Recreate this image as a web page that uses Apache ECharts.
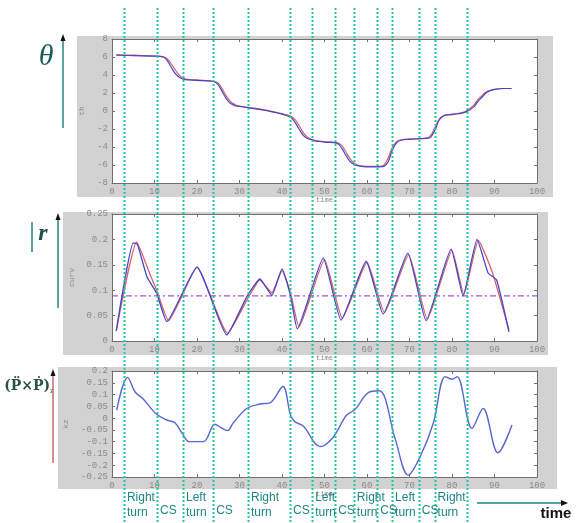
<!DOCTYPE html>
<html>
<head>
<meta charset="utf-8">
<script src="https://cdn.jsdelivr.net/npm/echarts@6/dist/echarts.min.js"></script>
<style>
  html, body { margin: 0; padding: 0; background: #fff; }
  #chart { width: 576px; height: 523px; }
</style>
</head>
<body>
<div id="chart"></div>
<script>
// heading angle theta (two estimates)
const thetaT    = [1, 5, 10, 12, 13, 14, 15, 16, 17, 18, 20, 24, 25, 26, 27, 28, 29, 30, 35, 40, 42, 43, 44, 45, 46, 47, 48, 50, 53, 54, 55, 56, 57, 58, 60, 63, 64, 65, 66, 67, 68, 70, 74, 75, 76, 77, 78, 80, 83, 85, 86, 87, 88, 89, 90, 92, 94];
const thetaRed  = [6.25, 6.2, 6.1, 6.05, 5.8, 5.2, 4.5, 3.9, 3.6, 3.5, 3.45, 3.3, 3.1, 2.4, 1.6, 1.0, 0.7, 0.55, 0.2, -0.3, -0.55, -0.9, -1.6, -2.4, -2.9, -3.15, -3.3, -3.4, -3.5, -3.8, -4.5, -5.3, -5.8, -6.05, -6.15, -6.15, -6.0, -5.2, -4.0, -3.4, -3.2, -3.1, -3.0, -2.7, -1.8, -0.9, -0.5, -0.35, -0.1, 0.6, 1.2, 1.7, 2.1, 2.3, 2.4, 2.5, 2.5];
const thetaBlue = [6.2, 6.15, 6.1, 6.0, 5.6, 4.8, 4.1, 3.7, 3.5, 3.45, 3.4, 3.25, 2.9, 2.1, 1.3, 0.8, 0.6, 0.5, 0.15, -0.35, -0.7, -1.2, -2.0, -2.7, -3.05, -3.2, -3.35, -3.45, -3.6, -4.1, -4.9, -5.6, -5.95, -6.1, -6.2, -6.2, -6.15, -5.6, -4.3, -3.5, -3.25, -3.15, -3.05, -2.9, -2.1, -1.0, -0.55, -0.4, -0.15, 0.4, 1.0, 1.5, 2.0, 2.25, 2.4, 2.5, 2.5];

// |r| curvature (two estimates) and threshold
const rRedT  = [1, 5.8, 9, 10.5, 13.3, 20, 27.2, 31.7, 34.8, 37.6, 40, 42, 44, 50, 54.2, 60, 64.1, 69.8, 74.2, 80, 82.8, 86.2, 89.5, 93.4];
const rRed   = [0.02, 0.195, 0.13, 0.1, 0.04, 0.145, 0.015, 0.08, 0.12, 0.095, 0.138, 0.095, 0.028, 0.16, 0.045, 0.155, 0.056, 0.17, 0.043, 0.178, 0.092, 0.198, 0.135, 0.022];
const rBlueT = [1, 5, 6, 8.2, 10.5, 12.9, 20, 27, 31.7, 34.8, 37.6, 40, 42, 43.6, 49.7, 53.9, 59.8, 63.8, 69.6, 73.9, 79.8, 82.6, 85.9, 88.5, 90.5, 93.4];
const rBlue  = [0.02, 0.193, 0.19, 0.127, 0.094, 0.038, 0.146, 0.012, 0.087, 0.122, 0.09, 0.142, 0.089, 0.024, 0.163, 0.041, 0.157, 0.053, 0.173, 0.04, 0.181, 0.089, 0.2, 0.134, 0.12, 0.018];
const rThreshold = 0.089;

// (P'' x P')z
const kzT = [1.1, 3.7, 5.4, 7.4, 10.5, 12.9, 14.8, 16.6, 18.2, 21.5, 24.2, 25.6, 27.2, 28.5, 31.7, 34.8, 37.2, 40.2, 42, 43, 45, 49, 52, 55.2, 57.2, 60.3, 62.9, 66.6, 69.7, 72.5, 75.6, 78.4, 80, 81.2, 84.7, 87.3, 90.8, 94.1];
const kz  = [0.034, 0.173, 0.112, 0.08, 0.016, -0.008, -0.02, -0.067, -0.1, -0.1, -0.026, -0.04, -0.053, -0.021, 0.041, 0.06, 0.065, 0.134, 0.013, -0.015, -0.034, -0.121, -0.082, 0.013, 0.037, 0.108, 0.116, -0.086, -0.242, -0.164, -0.022, 0.176, 0.165, 0.176, -0.044, 0.041, -0.147, -0.029];

// segment boundaries (time) and segment names
const segBounds = [2.8, 10.6, 16.7, 23.8, 32, 41.9, 47.1, 52.5, 56.9, 62.4, 65.9, 72.2, 75.9, 83.5];
const segLabels = ['Right\nturn', 'CS', 'Left\nturn', 'CS', 'Right\nturn', 'CS', 'Left\nturn', 'CS', 'Right\nturn', 'CS', 'Left\nturn', 'CS', 'Right\nturn'];

const xTicks = [0, 10, 20, 30, 40, 50, 60, 70, 80, 90, 100];

const pairs = (ts, vs) => ts.map((t, i) => [t, vs[i]]);

const chart = echarts.init(document.getElementById('chart'));

const tickFont = { color: '#8a8a8a', fontSize: 9, fontFamily: 'Liberation Mono' };
const frame = '#707070';

function bottomX(gi, withName) {
  return {
    type: 'value', gridIndex: gi, min: 0, max: 100, interval: 10, position: 'bottom',
    axisLine: { onZero: false, lineStyle: { color: frame } },
    axisTick: { inside: true, length: 3, lineStyle: { color: frame } },
    axisLabel: Object.assign({ margin: 4, formatter: v => xTicks.includes(v) ? String(v) : '' }, tickFont),
    splitLine: { show: false },
    name: withName ? 'time' : '', nameLocation: 'middle', nameGap: 13,
    nameTextStyle: { color: '#888', fontSize: 7, fontFamily: 'Liberation Mono' }
  };
}
function topX(gi) {
  return {
    type: 'value', gridIndex: gi, min: 0, max: 100, interval: 10, position: 'top',
    axisLine: { onZero: false, lineStyle: { color: frame } },
    axisTick: { inside: true, length: 3, lineStyle: { color: frame } },
    axisLabel: { show: false }, splitLine: { show: false }
  };
}
function leftY(gi, min, max, step, name, gap) {
  return {
    type: 'value', gridIndex: gi, min: min, max: max, interval: step, position: 'left',
    axisLine: { show: true, onZero: false, lineStyle: { color: frame } },
    axisTick: { show: true, inside: true, length: 3, lineStyle: { color: frame } },
    axisLabel: Object.assign({ margin: 4, formatter: v => String(+v.toFixed(2)) }, tickFont),
    splitLine: { show: false },
    name: name, nameLocation: 'middle', nameGap: gap,
    nameTextStyle: { color: '#888', fontSize: 8, fontFamily: 'Liberation Mono' }
  };
}
function rightY(gi, min, max, step) {
  return {
    type: 'value', gridIndex: gi, min: min, max: max, interval: step, position: 'right',
    axisLine: { show: true, onZero: false, lineStyle: { color: frame } },
    axisTick: { show: true, inside: true, length: 3, lineStyle: { color: frame } },
    axisLabel: { show: false }, splitLine: { show: false }
  };
}

const red = '#d9606a';
const blue = '#4646c8';

chart.setOption({
  animation: false,
  backgroundColor: '#ffffff',
  grid: [
    { left: 112, top: 39, width: 425, height: 144, show: true, backgroundColor: '#fff', borderWidth: 0 },
    { left: 112, top: 214, width: 425, height: 127, show: true, backgroundColor: '#fff', borderWidth: 0 },
    { left: 112, top: 371, width: 425, height: 106, show: true, backgroundColor: '#fff', borderWidth: 0 }
  ],
  xAxis: [bottomX(0, true), bottomX(1, true), bottomX(2, true), topX(0), topX(1), topX(2)],
  yAxis: [
    leftY(0, -8, 8, 2, 'th', 24),
    leftY(1, 0, 0.25, 0.05, 'curv', 36),
    leftY(2, -0.25, 0.2, 0.05, 'kz', 40),
    rightY(0, -8, 8, 2), rightY(1, 0, 0.25, 0.05), rightY(2, -0.25, 0.2, 0.05)
  ],
  series: [
    { type: 'line', xAxisIndex: 0, yAxisIndex: 0, data: pairs(thetaT, thetaRed), smooth: 0.4, showSymbol: false, lineStyle: { color: red, width: 1.2 } },
    { type: 'line', xAxisIndex: 0, yAxisIndex: 0, data: pairs(thetaT, thetaBlue), smooth: 0.4, showSymbol: false, lineStyle: { color: blue, width: 1.2 } },
    {
      type: 'line', xAxisIndex: 1, yAxisIndex: 1, data: [[0, rThreshold], [100, rThreshold]], showSymbol: false, z: 1,
      lineStyle: { color: '#a64ee6', width: 1.3, type: [6, 3, 2, 3] }
    },
    { type: 'line', xAxisIndex: 1, yAxisIndex: 1, data: pairs(rRedT, rRed), smooth: 0.15, showSymbol: false, lineStyle: { color: red, width: 1.3 } },
    { type: 'line', xAxisIndex: 1, yAxisIndex: 1, data: pairs(rBlueT, rBlue), smooth: 0.15, showSymbol: false, lineStyle: { color: blue, width: 1.3 } },
    { type: 'line', xAxisIndex: 2, yAxisIndex: 2, data: pairs(kzT, kz), smooth: 0.35, showSymbol: false, lineStyle: { color: '#5866d0', width: 1.4 } }
  ]
});

// decorations: gray panels, side symbols and arrows, segment markers
const teal = '#1f8585';
function arrowUp(x, y0, y1, color) {
  return [
    { type: 'line', shape: { x1: x, y1: y0, x2: x, y2: y1 + 5 }, style: { stroke: color, lineWidth: 1.5 } },
    { type: 'polygon', shape: { points: [[x - 2.5, y1 + 7], [x + 2.5, y1 + 7], [x, y1]] }, style: { fill: '#111' } }
  ];
}

const el = [
  { type: 'rect', z: -1, shape: { x: 77, y: 36, width: 476, height: 161 }, style: { fill: '#d2d2d2' } },
  { type: 'rect', z: -1, shape: { x: 63, y: 212, width: 485, height: 143 }, style: { fill: '#d2d2d2' } },
  { type: 'rect', z: -1, shape: { x: 58, y: 367, width: 499, height: 122 }, style: { fill: '#d2d2d2' } },
  { type: 'text', x: 46, y: 57, style: { text: 'θ', fill: '#1d5a5a', font: 'italic 30px "Liberation Serif"', align: 'center', verticalAlign: 'middle' } },
  { type: 'line', shape: { x1: 32, y1: 222, x2: 32, y2: 252 }, style: { stroke: teal, lineWidth: 1.5 } },
  { type: 'text', x: 43, y: 234, style: { text: 'r', fill: '#1d4f4f', font: 'italic bold 24px "Liberation Serif"', align: 'center', verticalAlign: 'middle' } },
  {
    type: 'text', x: 29, y: 386,
    style: {
      text: '{a|(P̈×Ṗ)}{s|z}', align: 'center', verticalAlign: 'middle',
      rich: {
        a: { font: 'bold 14px "DejaVu Serif"', fill: '#2a4f4f' },
        s: { font: '8px "Liberation Serif"', fill: '#2a4f4f', padding: [9, 0, 0, 0] }
      }
    }
  },
  ...arrowUp(63, 128, 34, '#2a8080'),
  ...arrowUp(58, 308, 213, teal),
  ...arrowUp(53, 463, 369, '#d06a6a'),
  { type: 'line', shape: { x1: 477, y1: 503, x2: 562, y2: 503 }, style: { stroke: teal, lineWidth: 1.5 } },
  { type: 'polygon', shape: { points: [[561, 500], [561, 506], [568, 503]] }, style: { fill: '#111' } },
  { type: 'text', x: 556, y: 514, style: { text: 'time', fill: '#111', font: 'bold 15px "Liberation Sans"', align: 'center', verticalAlign: 'middle' } }
];

segBounds.forEach(t => {
  const px = Math.round(chart.convertToPixel({ xAxisIndex: 0 }, t)) + 0.5;
  el.push({ type: 'line', z: 100, shape: { x1: px, y1: 8, x2: px, y2: 523 }, style: { stroke: '#22c49c', lineWidth: 2, lineDash: [2, 2] } });
});
segLabels.forEach((name, i) => {
  const px = chart.convertToPixel({ xAxisIndex: 0 }, segBounds[i]) + 3;
  const two = name.indexOf('\n') >= 0;
  el.push({
    type: 'text', z: 100, x: px, y: two ? 505 : 511,
    style: { text: name, fill: teal, font: '12px "Liberation Sans"', lineHeight: 15, align: 'left', verticalAlign: 'middle' }
  });
});

chart.setOption({ graphic: { elements: el } });
</script>
</body>
</html>
